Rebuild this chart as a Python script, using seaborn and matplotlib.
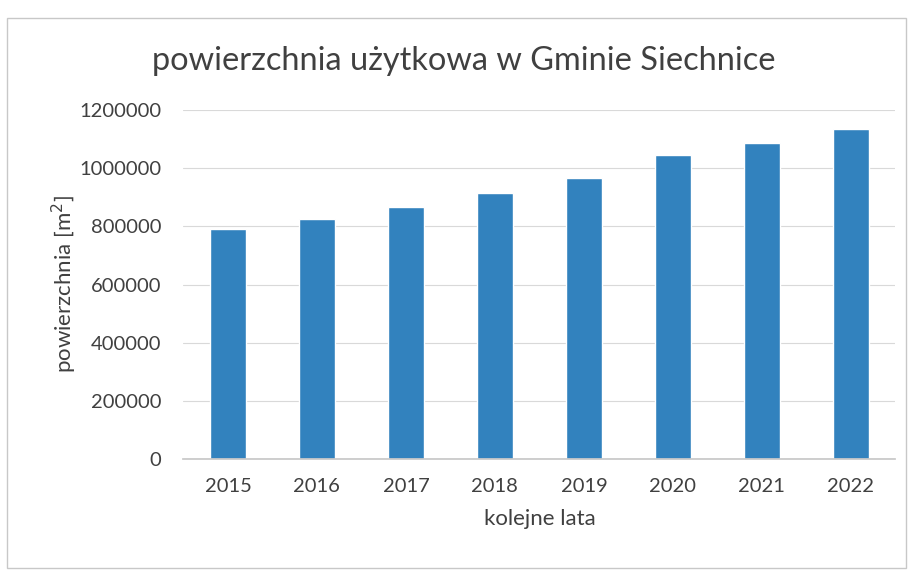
import matplotlib
matplotlib.use("Agg")
import matplotlib.pyplot as plt
import seaborn as sns
import pandas as pd
from matplotlib.patches import Rectangle

# values
years = ["2015", "2016", "2017", "2018", "2019", "2020", "2021", "2022"]
area = [792000, 824000, 867000, 914000, 965000, 1045000, 1085000, 1134000]
yticks = [0, 200000, 400000, 600000, 800000, 1000000, 1200000]

sns.set_theme(style="white")
plt.rcParams["font.family"] = ["Lato", "DejaVu Sans"]

df = pd.DataFrame({"rok": years, "powierzchnia": area})

fig = plt.figure(figsize=(9.15, 5.7), dpi=100)
ax = fig.add_axes([0.2005, 0.1947, 0.778, 0.6123])

sns.barplot(data=df, x="rok", y="powierzchnia", color="#3282BE",
            saturation=1, width=0.4, ax=ax)

ax.set_ylim(0, 1200000)
ax.set_yticks(yticks)
ax.set_yticklabels([str(v) for v in yticks])
ax.set_xlim(-0.5, len(years) - 0.5)
ax.yaxis.grid(True, color="#d9d9d9", linewidth=0.8)
ax.set_axisbelow(True)
for s in ["top", "right", "left"]:
    ax.spines[s].set_visible(False)
ax.spines["bottom"].set_color("#c8c8c8")
ax.tick_params(axis="both", length=0, labelsize=14.5, labelcolor="#404040")
ax.tick_params(axis="y", pad=16)
ax.tick_params(axis="x", pad=14)

ax.set_xlabel("kolejne lata", fontsize=16, color="#404040", labelpad=10)
ax.set_ylabel("powierzchnia [m$^2$]", fontsize=16, color="#404040", labelpad=0)

fig.text(0.507, 0.893, "powierzchnia użytkowa w Gminie Siechnice",
         ha="center", va="center", fontsize=23.4, color="#404040")

# chart frame
fig.patches.append(Rectangle((0.008, 0.004), 0.982, 0.965, transform=fig.transFigure,
                             fill=False, edgecolor="#c8c8c8", linewidth=1))

fig.savefig("out.png", dpi=100, facecolor="white")
